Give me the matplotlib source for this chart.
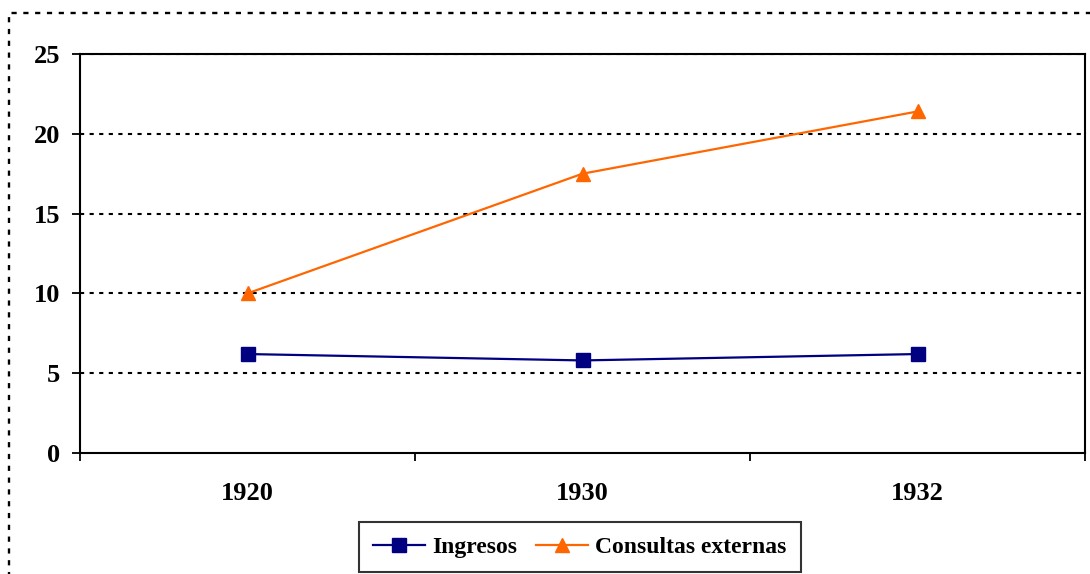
import matplotlib
matplotlib.use("Agg")
import matplotlib.pyplot as plt
from matplotlib.patches import Rectangle

years = ["1920", "1930", "1932"]
ingresos = [6.2, 5.8, 6.2]
consultas = [10.0, 17.5, 21.4]
yticks = [0, 5, 10, 15, 20, 25]

plt.rcParams["font.family"] = ["Liberation Serif", "DejaVu Serif"]
plt.rcParams["font.weight"] = "bold"

W, H = 1090, 574
fig = plt.figure(figsize=(W / 100, H / 100), dpi=100)
ax = fig.add_axes([80 / W, 1 - 453 / H, 1005 / W, 399 / H])

x = list(range(len(years)))
ax.plot(x, ingresos, color="#000080", lw=1.6, marker="s", ms=9.5,
        mfc="#000080", mec="#000080", label="Ingresos", zorder=3)
ax.plot(x, consultas, color="#FF6600", lw=1.6, marker="^", ms=10.5,
        mfc="#FF6600", mec="#FF6600", label="Consultas externas", zorder=3)

ax.set_xlim(-0.5, len(years) - 0.5)
ax.set_ylim(0, 25)
ax.set_yticks(yticks)
ax.set_yticklabels([str(v) for v in yticks], fontsize=19, fontweight="bold")
ax.set_xticks(x)
ax.set_xticklabels(years, fontsize=19, fontweight="bold")
ax.set_xticks([i - 0.5 for i in range(len(years) + 1)], minor=True)
ax.tick_params(axis="x", which="major", length=0, pad=21)
ax.tick_params(axis="x", which="minor", length=6, width=1.3, direction="out")
ax.tick_params(axis="y", length=6, width=1.3, direction="out", pad=8)

for v in yticks[1:]:
    ax.axhline(v, color="black", lw=1.5, ls=(0, (2.0, 2.6)), zorder=1)

for s in ax.spines.values():
    s.set_color("black")
    s.set_linewidth(1.5)

# dotted chart-area border
fig.patches.append(Rectangle((9 / W, -0.05), 1.2, 1 - 13 / H + 0.05,
                             transform=fig.transFigure, fill=False,
                             ec="black", lw=1.7, ls=(0, (2.2, 2.8))))

leg = fig.legend(loc="lower center", bbox_to_anchor=(580 / W, 2 / H),
                 ncol=2, frameon=True, fancybox=False, shadow=False,
                 prop={"size": 17, "weight": "bold"}, handlelength=2.2,
                 columnspacing=0.8, handletextpad=0.3, borderpad=0.6,
                 borderaxespad=0)
leg.get_frame().set_edgecolor("black")
leg.get_frame().set_linewidth(1.5)

fig.savefig("out.png", dpi=100)
